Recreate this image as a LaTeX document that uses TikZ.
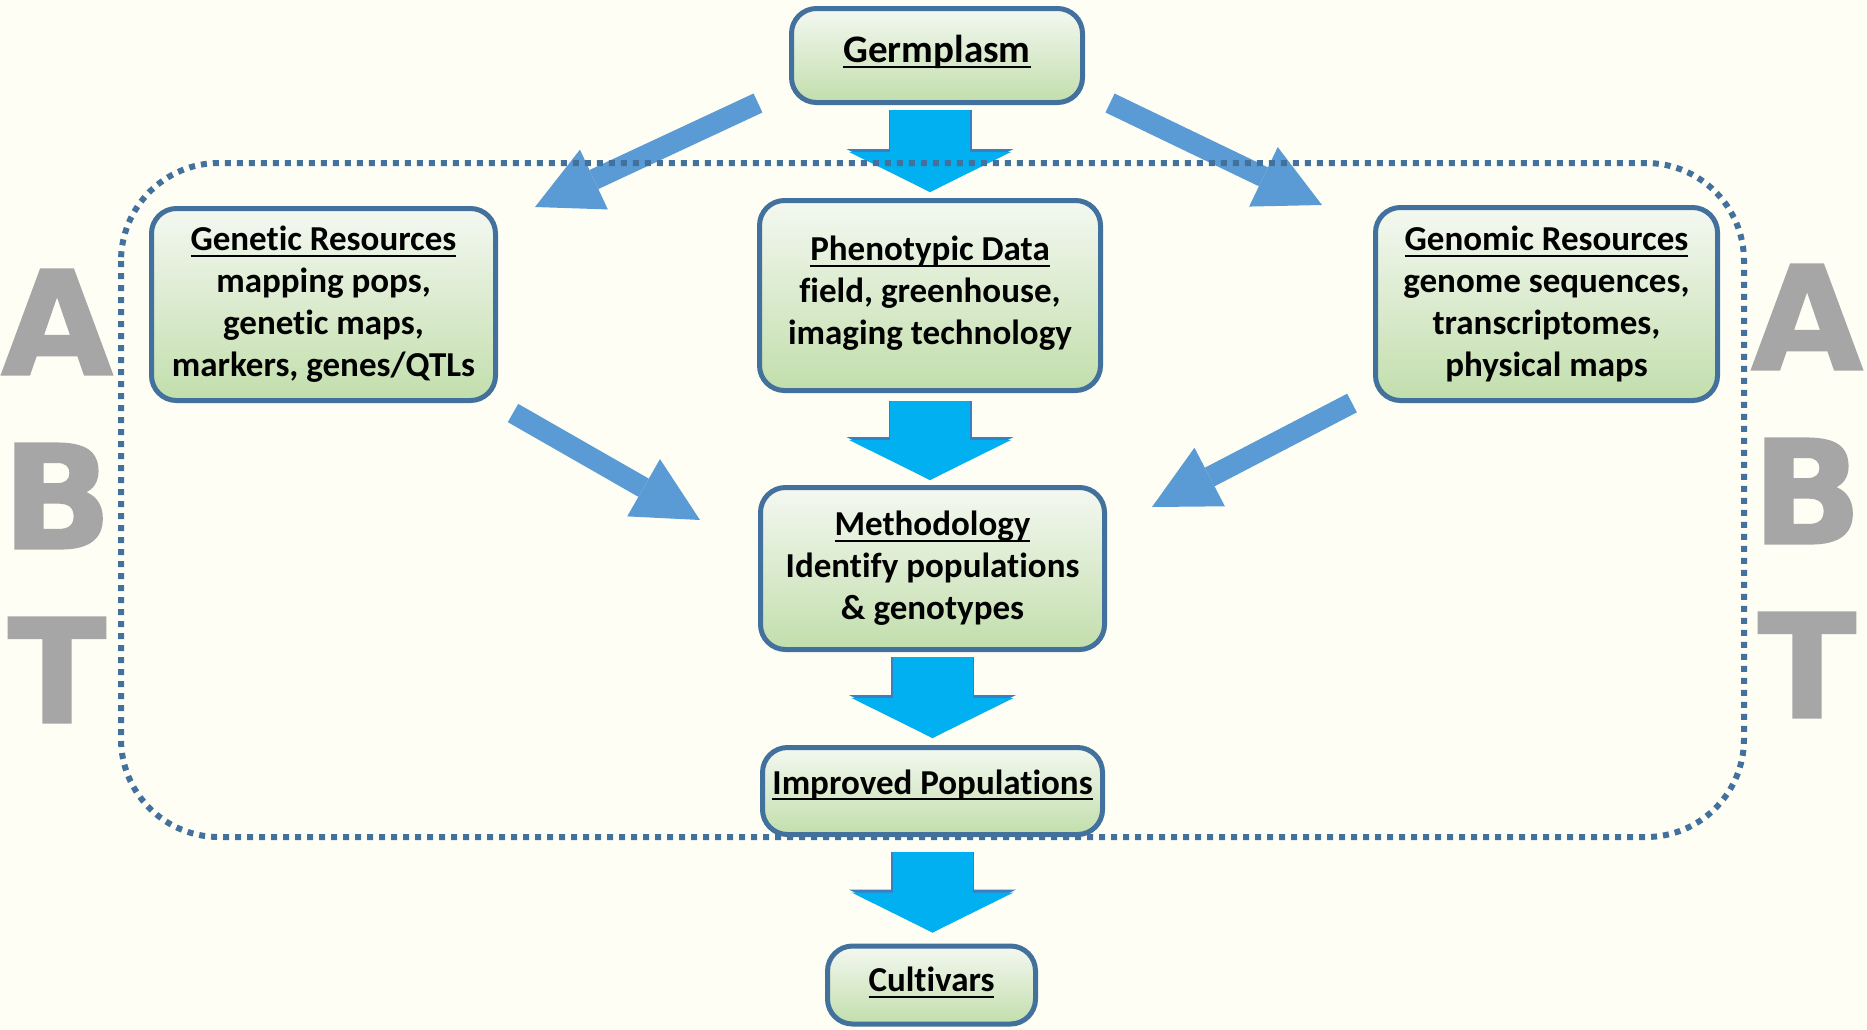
\documentclass[tikz,border=0pt]{standalone}
\usepackage{fontspec}
\usepackage{xcolor}
\usepackage{tikz}
\usetikzlibrary{arrows.meta}
\usetikzlibrary{positioning}
\setmainfont[Ligatures=NoCommon]{Carlito}
\newfontfamily\abtfont[FakeBold=1.5]{DejaVu Sans Bold}
\definecolor{Paper}{HTML}{FEFEF4}
\definecolor{Box Border}{HTML}{41719C}
\definecolor{Box Top}{HTML}{F4F8F1}
\definecolor{Box Bottom}{HTML}{C2DEAC}
\definecolor{Arrow Cyan}{HTML}{00B0F0}
\definecolor{Arrow Edge}{HTML}{3C7FC0}
\definecolor{Arrow Blue}{HTML}{5B9BD5}
\definecolor{Letter Gray}{HTML}{A6A6A6}
\newsavebox{\headbox}
\newcommand{\headline}[1]{\sbox{\headbox}{#1}\rlap{\rule[-6pt]{\wd\headbox}{2pt}}\usebox{\headbox}}

\tikzset{
    box/.style={draw=Box Border, line width=5pt, rounded corners=25pt,
        top color=Box Top, bottom color=Box Bottom, align=center, inner sep=0pt,
        font=\bfseries\fontsize{35}{42}\selectfont},
    downarrow/.style={draw=Arrow Cyan, line width=80pt,
        -{Triangle[width=162pt,length=40pt,line width=0pt]},
        preaction={draw=Arrow Edge, line width=83pt,
            -{Triangle[width=167pt,length=43pt,line width=0pt]}}},
    diagarrow/.style={draw=Arrow Blue, line width=21pt,
        -{Triangle[width=66pt,length=65pt,line width=0pt]}},
    abtletter/.style={text=Letter Gray, inner sep=0pt,
        font=\abtfont\fontsize{144}{144}\selectfont}
}

\begin{document}
\begin{tikzpicture}[x=1pt, y=-1pt]
    \useasboundingbox (0,0) rectangle (1867,1029);
    \fill[Paper] (0,0) rectangle (1867,1029);

    % Boxes
    \node[box, minimum width=291pt, minimum height=94pt, text depth=14pt,
        font=\bfseries\fontsize{39}{46}\selectfont]
        (germ) at (937,55.5) {\headline{Germplasm}};
    \node[box, minimum width=344pt, minimum height=192pt] (gen) at (323.5,304.5)
        {\headline{Genetic Resources}\\mapping pops,\\genetic maps,\\markers, genes/QTLs};
    \node[box, minimum width=341pt, minimum height=190pt] (phen) at (930,295.5)
        {\headline{Phenotypic Data}\\field, greenhouse,\\imaging technology\\[-32pt]};
    \node[box, minimum width=342pt, minimum height=193pt] (genom) at (1546.5,304)
        {\headline{Genomic Resources}\\genome sequences,\\transcriptomes,\\physical maps};
    \node[box, minimum width=344pt, minimum height=162pt] (meth) at (932.5,568.5)
        {\headline{Methodology}\\Identify populations\\\& genotypes};
    \node[box, minimum width=340pt, minimum height=87pt, text depth=18pt] (impr) at (932.5,791)
        {\headline{Improved Populations}};
    \node[box, minimum width=208pt, minimum height=78pt, text depth=11pt] (cult) at (931.5,985)
        {\headline{Cultivars}};

    % Down arrows
    \draw[downarrow] ([yshift=-5pt]germ.south -| phen.north) -- ([yshift=6pt]phen.north);
    \draw[downarrow] ([yshift=-8pt]phen.south) -- ([yshift=5pt]meth.north -| phen.south);
    \draw[downarrow] ([yshift=-5pt]meth.south) -- ([yshift=7pt]impr.north);
    \draw[downarrow] ([yshift=-15pt]impr.south) -- ([yshift=11pt]cult.north -| impr.south);

    % Side arrows
    \draw[diagarrow] ([shift={(-31,-2)}]germ.south west) -- ([shift={(37,1)}]gen.north east);
    \draw[diagarrow] ([shift={(25,-2)}]germ.south east) -- ([shift={(-51,0)}]genom.north west);
    \draw[diagarrow] ([shift={(15,10)}]gen.south east) -- ([shift={(-58,35)}]meth.north west);
    \draw[diagarrow] ([shift={(-21,0)}]genom.south west) -- ([shift={(45,22)}]meth.north east);

    % Dotted frame
    \draw[Box Border, line width=6pt, dash pattern=on 6pt off 6pt, rounded corners=98pt]
        (121,163) rectangle (1744,837);

    % ABT letters
    \foreach \letter/\ypos in {A/322, B/496, T/670} {
        \node[abtletter] (left\letter) at (57,\ypos) {\letter};
        \node[abtletter] (right\letter) at (1807,\ypos-5) {\letter};
    }
\end{tikzpicture}
\end{document}
